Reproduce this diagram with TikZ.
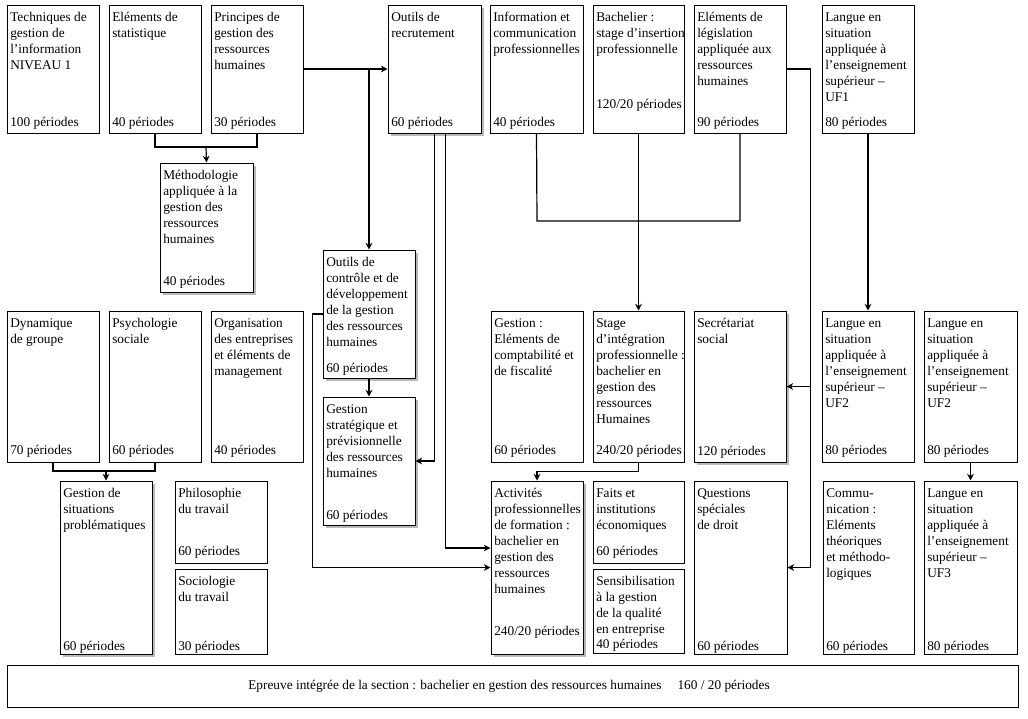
\documentclass[tikz,border=0pt]{standalone}
\usepackage{fontspec}
\setmainfont{Liberation Serif}
\usetikzlibrary{fit,shadows,arrows.meta}
\tikzset{
 box/.style={draw, line width=0.75pt, inner sep=0pt, fill=white},
 shd/.style={drop shadow={shadow xshift=2.5pt, shadow yshift=-2.5pt, fill=gray!55, opacity=1}},
 plain/.style={},
 txt/.style={align=left, inner sep=0pt, font=\fontsize{10}{12}\selectfont},
 conn/.style={line width=0.9pt},
 arr/.style={conn, -{Stealth[length=5pt,width=5pt]}},
}
\newcommand{\ubox}[9]{%
 \node[box,#1, fit={(#3,#4) (#5,#6)}] (#2) {};
 \node[txt, anchor=north west] (#2-t) at ({#3+3},{#4+3}) {\rule{0pt}{9.75pt}#7};
 \node[txt, anchor=base west] (#2-p) at ({#3+3},#8) {#9};
}
\begin{document}
\begin{tikzpicture}[x=0.75pt,y=-0.75pt]
\useasboundingbox (0,0) rectangle (1028,718);
% top row
\ubox{plain}{tech}{7}{5}{99}{133}{Techniques de\\gestion de\\l’information\\NIVEAU 1}{126}{100 périodes}
\ubox{plain}{stat}{109}{5}{201}{133}{Eléments de\\statistique}{126}{40 périodes}
\ubox{plain}{princ}{211}{5}{303}{133}{Principes de\\gestion des\\ressources\\humaines}{126}{30 périodes}
\ubox{shd}{recr}{388}{5}{481}{133}{Outils de\\recrutement}{126}{60 périodes}
\ubox{plain}{info}{490}{5}{583}{133}{Information et\\communication\\professionnelles}{126}{40 périodes}
\ubox{plain}{bach}{593}{5}{684}{133}{Bachelier :\\stage d’insertion\\professionnelle}{108}{120/20 périodes}
\ubox{plain}{legis}{694}{5}{786}{133}{Eléments de\\législation\\appliquée aux\\ressources\\humaines}{126}{90 périodes}
\ubox{plain}{uf1}{822}{5}{914}{133}{Langue en\\situation\\appliquée à\\l’enseignement\\supérieur –\\UF1}{126}{80 périodes}
% middle
\ubox{shd}{meth}{160}{163}{253}{292}{Méthodologie\\appliquée à la\\gestion des\\ressources\\humaines}{285}{40 périodes}
\ubox{shd}{ctrl}{323}{250}{415}{378}{Outils de\\contrôle et de\\développement\\de la gestion\\des ressources\\humaines}{372}{60 périodes}
\ubox{shd}{strat}{323}{397}{415}{525}{Gestion\\stratégique et\\prévisionnelle\\des ressources\\humaines}{519}{60 périodes}
% second row
\ubox{plain}{dyn}{7}{311}{99}{462}{Dynamique\\de groupe}{454}{70 périodes}
\ubox{plain}{psy}{109}{311}{201}{462}{Psychologie\\sociale}{454}{60 périodes}
\ubox{plain}{org}{211}{311}{303}{462}{Organisation\\des entreprises\\et éléments de\\management}{454}{40 périodes}
\ubox{plain}{gest}{491}{311}{583}{462}{Gestion :\\Eléments de\\comptabilité et\\de fiscalité}{454}{60 périodes}
\ubox{plain}{stage}{593}{311}{684}{462}{Stage\\d’intégration\\professionnelle :\\bachelier en\\gestion des\\ressources\\Humaines}{454}{240/20 périodes}
\ubox{shd}{secr}{694}{311}{786}{462}{Secrétariat\\social}{455}{120 périodes}
\ubox{plain}{uftwoa}{822}{311}{914}{462}{Langue en\\situation\\appliquée à\\l’enseignement\\supérieur –\\UF2}{454}{80 périodes}
\ubox{plain}{uftwob}{924}{311}{1017}{462}{Langue en\\situation\\appliquée à\\l’enseignement\\supérieur –\\UF2}{454}{80 périodes}
% third row
\ubox{shd}{sit}{60}{481}{152}{654}{Gestion de\\situations\\problématiques}{650}{60 périodes}
\ubox{plain}{philo}{175}{481}{267}{563}{Philosophie\\du travail}{555}{60 périodes}
\ubox{plain}{socio}{175}{569}{267}{654}{Sociologie\\du travail}{650}{30 périodes}
\ubox{shd}{activ}{491}{481}{583}{654}{Activités\\professionnelles\\de formation :\\bachelier en\\gestion des\\ressources\\humaines}{635}{240/20 périodes}
\ubox{plain}{faits}{593}{481}{684}{563}{Faits et\\institutions\\économiques}{555}{60 périodes}
\ubox{plain}{sens}{593}{569}{684}{653}{Sensibilisation\\à la gestion\\de la qualité\\en entreprise}{648}{40 périodes}
\ubox{plain}{quest}{694}{481}{787}{654}{Questions\\spéciales\\de droit}{650}{60 périodes}
\ubox{plain}{comm}{823}{481}{914}{654}{Commu-\\nication :\\Eléments\\théoriques\\et méthodo-\\logiques}{650}{60 périodes}
\ubox{plain}{ufthree}{924}{481}{1017}{654}{Langue en\\situation\\appliquée à\\l’enseignement\\supérieur –\\UF3}{650}{80 périodes}
% bottom
\node[box, fit={(7,665) (1018,707)}] (epr) {};
\node[inner sep=0pt, font=\fontsize{10}{12}\selectfont] (eprt) at (509,686) {Epreuve intégrée de la section : bachelier en gestion des ressources humaines\hspace{1.2em}160 / 20 périodes};
% connectors
\coordinate (j1) at (206,147);
\draw[conn] (stat.south) |- (j1) -| (princ.south);
\draw[arr] (j1) -- (meth.north);
\draw[arr] (princ.east) -- (recr.west);
\coordinate (j2) at (ctrl.north |- princ.east);
\draw[arr] (j2) -- (ctrl.north);
\draw[arr] (ctrl.south) -- (strat.north);
\draw[arr] (recr.south) |- (strat.east);
\draw[arr] ([xshift=8pt]recr.south) |- ([yshift=14.6pt]activ.west);
\draw[arr] (ctrl.west) -- ++(-7.5pt,0) |- (activ.west);
\coordinate (h1) at (537,221);
\draw[conn] (info.south) -- (h1) -| (legis.south);
\draw[arr] (bach.south) -- (stage.north);
\draw[arr] (legis.east) -- ++(18pt,0) |- (quest.east);
\draw[arr] ([xshift=18pt]secr.east) -- (secr.east);
\draw[arr] (uf1.south) -- (uftwoa.north);
\coordinate (j3) at (106,471);
\draw[conn] (dyn.south) |- (j3) -| (psy.south);
\draw[arr] (j3) -- (sit.north);
\draw[arr] (stage.south) -- ++(0,-6.75pt) -| (activ.north);
\draw[arr] (uftwob.south) -- (ufthree.north);
\end{tikzpicture}
\end{document}
